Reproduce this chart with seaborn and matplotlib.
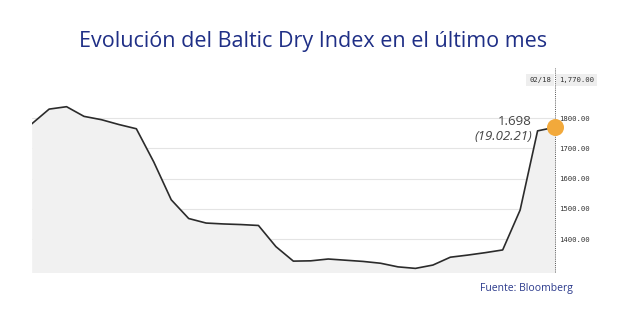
import matplotlib
matplotlib.use("Agg")
import matplotlib.pyplot as plt
import seaborn as sns
import pandas as pd
import numpy as np

# ---- data ----
dates = pd.date_range("2021-01-19", "2021-02-18", freq="D")
values = [1781, 1830, 1838, 1806, 1795, 1779, 1765, 1655, 1530, 1468,
          1453, 1450, 1448, 1445, 1375, 1327, 1328, 1334, 1330, 1326,
          1320, 1308, 1303, 1314, 1340, 1347, 1355, 1364, 1496, 1758, 1770]
yticks = [1400, 1500, 1600, 1700, 1800]
title = "Evolución del Baltic Dry Index en el último mes"
source = "Fuente: Bloomberg"
annot_value = "1.698"
annot_date = "(19.02.21)"
last_label_date = "02/18"

df = pd.DataFrame({"date": dates, "value": values})

sns.set_theme(style="white")
plt.rcParams["font.family"] = ["Open Sans", "DejaVu Sans"]

fig = plt.figure(figsize=(6.26, 3.13), dpi=100)
ax = fig.add_axes([0.0506, 0.13, 0.8360, 0.6527])

ax.fill_between(df["date"], df["value"], 1000, color="#f1f1f1", zorder=1, lw=0)
sns.lineplot(data=df, x="date", y="value", ax=ax, color="#2b2b2b", lw=1.2, zorder=3)

ax.set_xlim(dates[0], dates[-1])
ax.set_ylim(1290, 1966)
ax.set_yticks(yticks)
ax.yaxis.tick_right()
ax.set_yticklabels([f"{v:.2f}" for v in yticks], family="DejaVu Sans Mono",
                   fontsize=5.2, color="#333333")
ax.tick_params(axis="y", length=0, pad=3)
ax.set_xticks([])
ax.set_xlabel("")
ax.set_ylabel("")
for s in ax.spines.values():
    s.set_visible(False)
ax.grid(axis="y", color="#e4e4e4", lw=0.8, zorder=0)
ax.grid(axis="x", visible=False)

# dotted crosshair at last point
ax.axvline(dates[-1], color="#555555", lw=0.7, ls=(0, (1, 1.2)), zorder=2, clip_on=False)

# last point marker
ax.scatter([dates[-1]], [values[-1]], s=150, color="#f2a93b", zorder=5, clip_on=False, lw=0)

# annotation
ax.annotate(annot_value, xy=(dates[-1], values[-1]), xytext=(-23, 2),
            textcoords="offset pixels", ha="right", va="baseline",
            fontsize=9.5, color="#444444")
ax.annotate(annot_date, xy=(dates[-1], values[-1]), xytext=(-23, -12.5),
            textcoords="offset pixels", ha="right", va="baseline",
            fontsize=9.5, color="#444444", style="italic")

# top box labels
ax.annotate(last_label_date, xy=(dates[-1], 1927), xytext=(-4, 0),
            textcoords="offset pixels", ha="right", va="center",
            family="DejaVu Sans Mono", fontsize=5.2, color="#333333",
            bbox=dict(boxstyle="square,pad=0.45", fc="#eeeeee", ec="none"),
            annotation_clip=False)
ax.annotate(f"{values[-1]:,.2f}", xy=(dates[-1], 1927), xytext=(4, 0),
            textcoords="offset pixels", ha="left", va="center",
            family="DejaVu Sans Mono", fontsize=5.2, color="#333333",
            bbox=dict(boxstyle="square,pad=0.45", fc="#eeeeee", ec="none"),
            annotation_clip=False)

fig.text(0.5, 1 - 46.5 / 313, title, ha="center", va="baseline",
         fontsize=15.5, color="#1f2f86")
fig.text(572.7 / 626, 1 - 290.7 / 313, source, ha="right", va="baseline",
         fontsize=7.5, color="#2b3a8c")

fig.savefig("out.png", dpi=100)
